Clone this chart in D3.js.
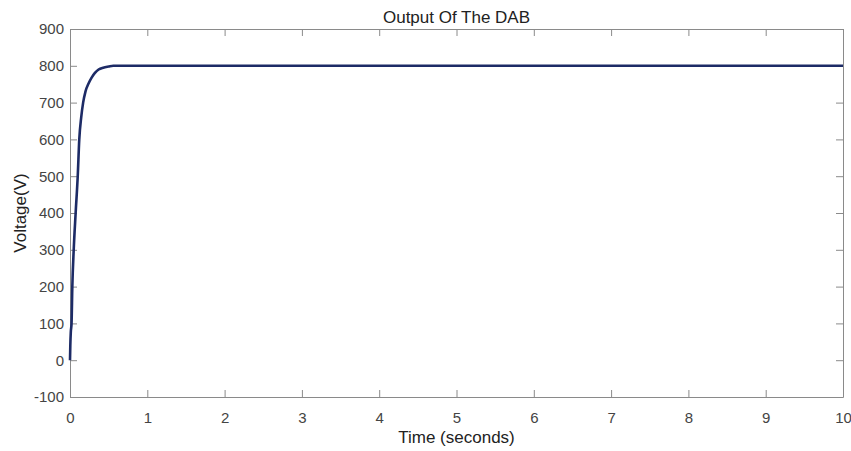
<!DOCTYPE html>
<html>
<head>
<meta charset="utf-8">
<script src="https://cdn.jsdelivr.net/npm/d3@7"></script>
<style>
  body { margin: 0; background: #fff; }
  svg text { font-family: "Liberation Sans", Arial, sans-serif; }
</style>
</head>
<body>
<div id="chart"></div>
<script>
// step response of the DAB output
const timeValues = [0, 0.004, 0.01, 0.02, 0.03, 0.048, 0.073, 0.10, 0.12, 0.145, 0.17, 0.2, 0.24, 0.28, 0.32, 0.37, 0.43, 0.5, 0.56, 0.7, 1, 10];
const voltValues = [0, 40, 75, 100, 200, 300, 400, 500, 600, 660, 700, 730, 752, 768, 780, 790, 795, 798, 800, 800, 800, 800];
const xTicks = [0, 1, 2, 3, 4, 5, 6, 7, 8, 9, 10];
const yTicks = [-100, 0, 100, 200, 300, 400, 500, 600, 700, 800, 900];

const width = 851, height = 451;
const margin = {top: 29, right: 8, bottom: 54, left: 70};
const innerW = width - margin.left - margin.right;
const innerH = height - margin.top - margin.bottom;

const svg = d3.select("#chart").append("svg")
  .attr("width", width)
  .attr("height", height);

const g = svg.append("g")
  .attr("transform", `translate(${margin.left},${margin.top})`);

const x = d3.scaleLinear().domain([0, 10]).range([0, innerW]);
const y = d3.scaleLinear().domain([-100, 900]).range([innerH, 0]);

const axisColor = "#8a8a8a";
const labelColor = "#444";
const plain = d => String(d); // keep the hyphen minus like the original

// bottom + left axes with labels, ticks pointing in
const xAxis = g.append("g")
  .attr("transform", `translate(0,${innerH})`)
  .call(d3.axisBottom(x).tickValues(xTicks).tickFormat(plain).tickSizeInner(-7).tickSizeOuter(0).tickPadding(15));
const yAxis = g.append("g")
  .call(d3.axisLeft(y).tickValues(yTicks).tickFormat(plain).tickSizeInner(-7).tickSizeOuter(0).tickPadding(6));

// top + right mirrored ticks
const xTop = g.append("g")
  .call(d3.axisTop(x).tickValues(xTicks).tickSizeInner(-7).tickSizeOuter(0).tickFormat(""));
const yRight = g.append("g")
  .attr("transform", `translate(${innerW},0)`)
  .call(d3.axisRight(y).tickValues(yTicks).tickSizeInner(-7).tickSizeOuter(0).tickFormat(""));

[xAxis, yAxis, xTop, yRight].forEach(a => {
  a.selectAll("path, line").attr("stroke", axisColor);
  a.selectAll("text").attr("fill", labelColor).attr("font-size", 15);
});

// the curve
const line = d3.line()
  .x((d, i) => x(timeValues[i]))
  .y(d => y(d))
  .curve(d3.curveMonotoneX);

g.append("path")
  .datum(voltValues)
  .attr("fill", "none")
  .attr("stroke", "#1d2b66")
  .attr("stroke-width", 2.6)
  .attr("d", line);

// title and axis labels
svg.append("text")
  .attr("x", margin.left + innerW / 2)
  .attr("y", 23)
  .attr("text-anchor", "middle")
  .attr("font-size", 17)
  .attr("fill", "#222")
  .text("Output Of The DAB");

svg.append("text")
  .attr("x", margin.left + innerW / 2)
  .attr("y", 443)
  .attr("text-anchor", "middle")
  .attr("font-size", 17)
  .attr("fill", "#222")
  .text("Time (seconds)");

svg.append("text")
  .attr("transform", `translate(26,${margin.top + innerH / 2}) rotate(-90)`)
  .attr("text-anchor", "middle")
  .attr("font-size", 17)
  .attr("fill", "#222")
  .text("Voltage(V)");
</script>
</body>
</html>
